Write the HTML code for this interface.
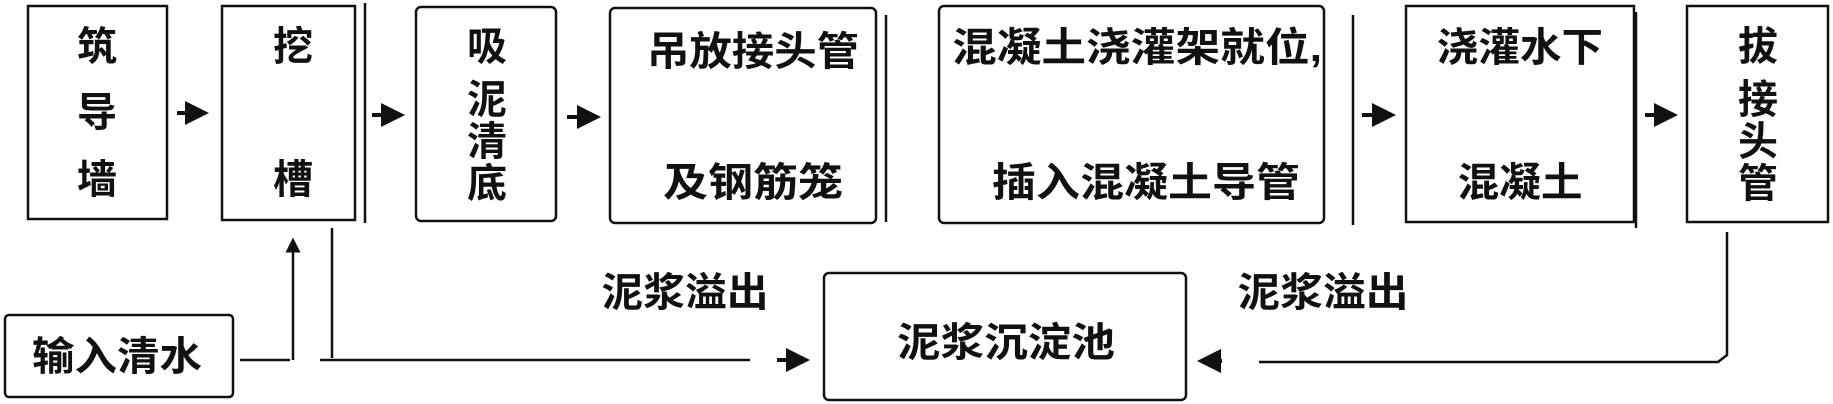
<!DOCTYPE html>
<html><head><meta charset="utf-8"><style>
html,body{margin:0;padding:0;background:#fff;}
svg{display:block}
text{font-family:"Liberation Sans","Noto Sans CJK SC",sans-serif;font-weight:bold;font-size:40px;fill:#111;text-anchor:middle;dominant-baseline:central}
</style></head><body>
<svg width="1833" height="404" viewBox="0 0 1833 404" xmlns="http://www.w3.org/2000/svg">
<defs><marker id="a" markerWidth="6" markerHeight="6" refX="5" refY="3" orient="auto" markerUnits="strokeWidth"><path d="M0,0 L6,3 L0,6 z" fill="#111"/></marker></defs>
<g fill="none" stroke="#111" stroke-width="2.5">
<rect x="28" y="6" width="139" height="213"/>
<rect x="222" y="6" width="133" height="214"/>
<line x1="365" y1="3" x2="365" y2="223"/>
<rect x="416" y="7" width="140" height="214" rx="5"/>
<rect x="610" y="8" width="266" height="215" rx="5"/>
<line x1="886" y1="15" x2="886" y2="222"/>
<rect x="939" y="6" width="385" height="217" rx="5"/>
<line x1="1353" y1="15" x2="1353" y2="225"/>
<rect x="1406" y="6" width="228" height="216"/>
<line x1="1636" y1="12" x2="1636" y2="228"/>
<rect x="1687" y="6" width="141" height="216"/>
<rect x="5" y="315" width="228" height="82" rx="4"/>
<rect x="824" y="273" width="362" height="127" rx="5"/>
<!-- connectors -->
<line x1="240" y1="360" x2="290" y2="360"/>
<line x1="293" y1="360" x2="293" y2="240" marker-end="url(#a)"/>
<polyline points="332,228 332,358"/>
<line x1="320" y1="360" x2="750" y2="360"/>
<polyline points="1727,232 1727,355 1718,362 1259,362"/>
</g>
<g stroke="#111" stroke-width="4" marker-end="url(#a)">
<line x1="177" y1="113" x2="205" y2="113"/>
<line x1="372" y1="115" x2="401" y2="115"/>
<line x1="567" y1="117" x2="597" y2="117"/>
<line x1="777" y1="360" x2="806" y2="360"/>
<line x1="1362" y1="115" x2="1392" y2="115"/>
<line x1="1645" y1="115" x2="1674" y2="115"/>
<line x1="1222" y1="361" x2="1201" y2="361"/>
</g>
<text x="97" y="47">筑</text><text x="97" y="113">导</text><text x="97" y="180">墙</text>
<text x="293" y="47">挖</text><text x="293" y="180">槽</text>
<text x="487" y="47">吸</text><text x="487" y="100">泥</text><text x="487" y="142">清</text><text x="487" y="184">底</text>
<text x="753" y="52" textLength="212" lengthAdjust="spacingAndGlyphs">吊放接头管</text>
<text x="753" y="183" textLength="180" lengthAdjust="spacingAndGlyphs">及钢筋笼</text>
<text x="1137" y="48" textLength="370" lengthAdjust="spacingAndGlyphs">混凝土浇灌架就位,</text>
<text x="1146" y="183" textLength="308" lengthAdjust="spacingAndGlyphs">插入混凝土导管</text>
<text x="1520" y="48" textLength="166" lengthAdjust="spacingAndGlyphs">浇灌水下</text>
<text x="1520" y="183" textLength="125" lengthAdjust="spacingAndGlyphs">混凝土</text>
<text x="1758" y="47">拔</text><text x="1758" y="100">接</text><text x="1758" y="142">头</text><text x="1758" y="184">管</text>
<text x="117" y="357" textLength="170" lengthAdjust="spacingAndGlyphs">输入清水</text>
<text x="685" y="293" textLength="167" lengthAdjust="spacingAndGlyphs">泥浆溢出</text>
<text x="1323" y="293" textLength="171" lengthAdjust="spacingAndGlyphs">泥浆溢出</text>
<text x="1006" y="343" textLength="218" lengthAdjust="spacingAndGlyphs">泥浆沉淀池</text>
</svg>
</body></html>
